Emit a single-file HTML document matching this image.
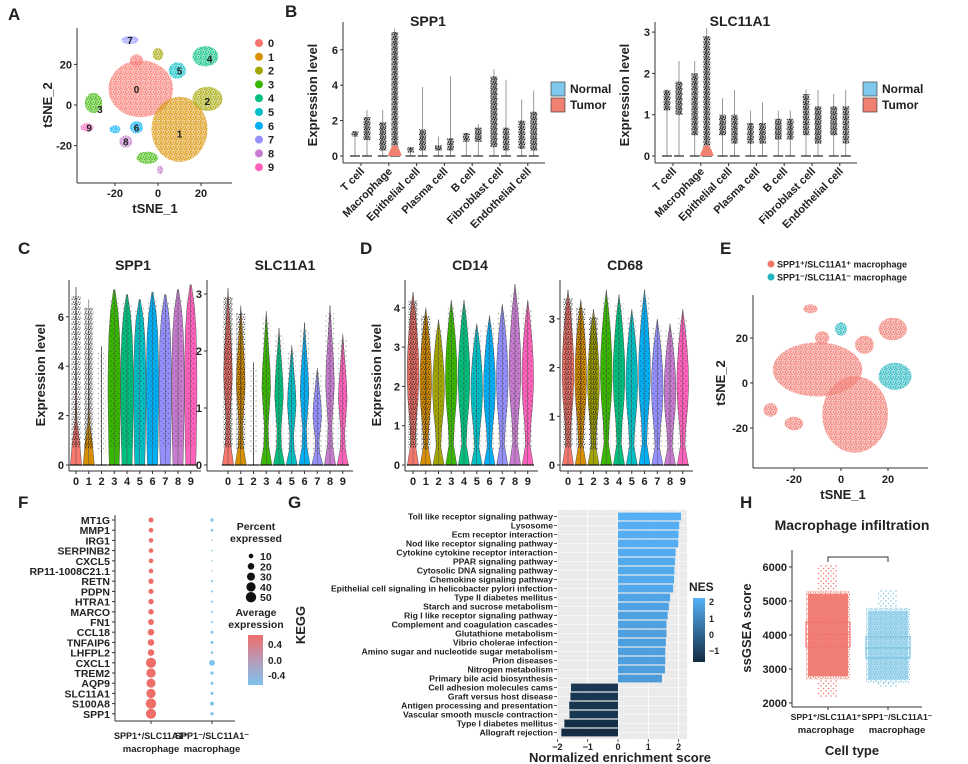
<!DOCTYPE html>
<html><head><meta charset="utf-8"><style>
body{margin:0;background:#fff}
svg{display:block;font-family:"Liberation Sans",Arial,sans-serif;font-weight:bold}
text{fill:#222}
</style></head><body>
<svg id="s" width="968" height="764" viewBox="0 0 968 764">
<defs id="defs"></defs>
<g id="g"></g>
</svg>
<script>
// ---------- data ----------
const clusterColors=["#F8766D","#D89000","#A3A500","#39B600","#00BF7D","#00BFC4","#00B0F6","#9590FF","#C77CD0","#FF62BC"];
const clusterIds=["0","1","2","3","4","5","6","7","8","9"];
// panel A blobs: cluster, x, y, rx, ry (tSNE units)
const aBlobCluster=[0,1,2,3,4,5,6,7,8,9,2,3,6,8,0];
const aBlobX=[-8,10,23,-30,22,9,-10,-13,-15,-33,0,-5,-20,1,-10];
const aBlobY=[8,-12,3,1,24,17,-11,32,-18,-11,25,-26,-12,-32,22];
const aBlobRX=[15,13,7,4,6,4,3,4,3,3,2.5,5,2.5,1.5,3];
const aBlobRY=[14,16,6,5,5,4,3,2,3,2,3,3,2,2,3];
const aLabelX=[-10,10,23,-27,24,10,-10,-13,-15,-32];
const aLabelY=[8,-14,2,-2,23,17,-11,32,-18,-11];
const tsneTicks=[-20,0,20];
// panel B
const cellTypes=["T cell","Macrophage","Epithelial cell","Plasma cell","B cell","Fibroblast cell","Endothelial cell"];
const sppNormMax=[1.4,2.6,0.5,1.1,1.3,4.9,3.2], sppTumMax=[2.6,7.2,3.9,4.5,1.8,4.3,3.7];
const sppNormLo=[1.1,0.3,0.2,0.3,0.8,0.5,0.4], sppNormHi=[1.4,1.9,0.5,0.6,1.3,4.5,2.0];
const sppTumLo=[0.9,0.3,0.3,0.3,0.8,0.3,0.3], sppTumHi=[2.2,7.0,1.5,1.0,1.6,1.6,2.5];
const slcNormMax=[1.6,2.3,1.4,1.1,1.1,1.6,1.5], slcTumMax=[2.3,3.1,1.6,1.3,1.1,1.6,1.6];
const slcNormLo=[1.1,0.5,0.5,0.3,0.4,0.5,0.5], slcNormHi=[1.6,2.0,1.0,0.8,0.9,1.5,1.2];
const slcTumLo=[1.0,0.2,0.3,0.3,0.4,0.3,0.3], slcTumHi=[1.8,2.9,1.0,0.8,0.9,1.2,1.2];
// panels C/D
const cSppMax=[7.2,6.7,4.8,7.1,6.9,6.7,7.0,6.9,7.1,7.3];
const cSlcMax=[3.1,2.8,1.8,2.7,2.4,2.1,2.5,1.7,2.8,2.3];
const dCd14Max=[4.4,4.0,3.7,4.2,4.2,3.6,3.8,4.1,4.6,4.2];
const dCd68Max=[3.6,3.4,3.2,3.6,3.5,3.2,3.6,3.0,2.9,3.2];
const profLow=[0.9,0.6,0.15,0.08,0.06,0.05,0.04,0.03,0];
const profWide=[0.8,0.9,0.95,1,1,0.95,0.85,0.6,0.1];
const profSlc=[0.9,0.4,0.3,0.5,0.7,0.6,0.4,0.2,0];
const profCd=[0.9,0.35,0.5,0.8,0.95,0.9,0.7,0.4,0];
const cSppType=[0,0,2,1,1,1,1,1,1,1];
const cSlcType=[1,1,2,1,1,1,1,1,1,1];
// panel E
const eBlobPos=[1,1,1,1,1,1,1,1,0,0];
const eBlobX=[-10,6,-30,22,-13,10,-8,-20,0,23];
const eBlobY=[6,-14,-12,24,33,17,20,-18,24,3];
const eBlobRX=[19,14,3,6,3,4,3,4,2.5,7];
const eBlobRY=[12,17,3,5,2,4,3,3,3,6];
// panel F
const fGenes=["MT1G","MMP1","IRG1","SERPINB2","CXCL5","RP11-1008C21.1","RETN","PDPN","HTRA1","MARCO","FN1","CCL18","TNFAIP6","LHFPL2","CXCL1","TREM2","AQP9","SLC11A1","S100A8","SPP1"];
const fPctPos=[12,10,10,10,10,10,13,12,14,14,16,20,20,20,48,40,38,40,50,48];
const fPctNeg=[5,3,1,1,1,1,2,2,2,2,2,4,4,3,16,5,4,4,7,5];
const fSizeTicks=[10,20,30,40,50];
// panel G
const gTerms=["Toll like receptor signaling pathway","Lysosome","Ecm receptor interaction","Nod like receptor signaling pathway","Cytokine cytokine receptor interaction","PPAR signaling pathway","Cytosolic DNA signaling pathway","Chemokine signaling pathway","Epithelial cell signaling in helicobacter pylori infection","Type II diabetes mellitus","Starch and sucrose metabolism","Rig I like receptor signaling pathway","Complement and coagulation cascades","Glutathione metabolism","Vibrio cholerae infection","Amino sugar and nucleotide sugar metabolism","Prion diseases","Nitrogen metabolism","Primary bile acid biosynthesis","Cell adhesion molecules cams","Graft versus host disease","Antigen processing and presentation","Vascular smooth muscle contraction","Type I diabetes mellitus","Allograft rejection"];
const gNES=[2.08,2.02,2.0,1.99,1.9,1.88,1.86,1.85,1.82,1.72,1.68,1.64,1.6,1.6,1.58,1.56,1.56,1.55,1.45,-1.55,-1.57,-1.61,-1.6,-1.77,-1.87];
const gTicks=[-2,-1,0,1,2];
// panel H
const hGroups=["pos","neg"];
const hQ1=[3650,3330], hMed=[4020,3620], hQ3=[4380,3950];
const hLo=[2700,2600], hHi=[5300,4800], hMin=[2150,2450], hMax=[6080,5320];
const hTicks=[2000,3000,4000,5000,6000];

// ---------- helpers ----------
const NS="http://www.w3.org/2000/svg";
const G=document.getElementById('g'), D=document.getElementById('defs');
function el(tag,attrs,parent,txt){const e=document.createElementNS(NS,tag);for(const k in attrs)e.setAttribute(k,attrs[k]);if(txt!==undefined)e.textContent=txt;(parent||G).appendChild(e);return e;}
const pats={};
function pat(color,dense){const key=color+dense;if(pats[key])return pats[key];const id='p'+Object.keys(pats).length;
 const p=el('pattern',{id:id,width:5,height:5,patternUnits:'userSpaceOnUse'},D);
 const pts=dense?[[1,1],[3.5,2],[2,4],[4.5,4.5],[0.5,3]]:[[1,1],[3.5,3.5]];
 pts.forEach(q=>el('circle',{cx:q[0],cy:q[1],r:0.8,fill:color},p));pats[key]='url(#'+id+')';return pats[key];}
function txt(x,y,s,size,opt){opt=opt||{};const t=el('text',Object.assign({x:x,y:y,'font-size':size,'text-anchor':opt.anchor||'start'},opt.attrs||{}),opt.parent,s);
 return t;}
function line(x1,y1,x2,y2,c,w,p){return el('line',{x1,y1,x2,y2,stroke:c||'#333','stroke-width':w||1},p);}
function blob(g,cx,cy,rx,ry,c,name){
 el('ellipse',{cx,cy,rx,ry,fill:c,opacity:0.4},g);
 const e=el('ellipse',{cx,cy,rx,ry,fill:pat(c,true)},g);
 }

[["A",8,20],["B",285,17],["C",18,254],["D",360,254],["E",720,254],["F",18,508],["G",288,508],["H",740,508]].forEach(l=>{
 const t=txt(l[1],l[2],l[0],17);});

// ---------- Panel A ----------
(function(){
 const g=el('g',{});
 const X=v=>158+v*2.15, Y=v=>105-v*2.03;
 aBlobCluster.forEach((c,i)=>blob(g,X(aBlobX[i]),Y(aBlobY[i]),aBlobRX[i]*2.15,aBlobRY[i]*2.03,clusterColors[c],'cluster-'+c+'-points'));
 clusterIds.forEach((c,i)=>txt(X(aLabelX[i]),Y(aLabelY[i])+4,c,10,{anchor:'middle',parent:g,name:'cluster-label-'+c}));
 line(77,28,77,183,'#333',1,g);line(77,183,232,183,'#333',1,g);
 tsneTicks.forEach(t=>{line(X(t),183,X(t),186,'#333',1,g);txt(X(t),197,String(t),11,{anchor:'middle',parent:g,name:'x-tick'});
  line(74,Y(t),77,Y(t),'#333',1,g);txt(72,Y(t)+4,String(t),11,{anchor:'end',parent:g,name:'y-tick'});});
 txt(155,213,'tSNE_1',13,{anchor:'middle',parent:g,name:'x-axis-title'});
 txt(52,105,'tSNE_2',13,{anchor:'middle',parent:g,name:'y-axis-title',attrs:{transform:'rotate(-90 52 105)'}});
 clusterIds.forEach((c,i)=>{const y=43+i*13.8;const cc=el('circle',{cx:259,cy:y,r:4,fill:clusterColors[i]},g);
  
  txt(268,y+4,c,11,{parent:g,name:'legend-entry-'+c});});
})();

// ---------- Panel B ----------
function panelB(ox,title,yscale,yticks,nMax,tMax,nLo,nHi,tLo,tHi,name){
 const g=el('g',{});
 const y0=156,Y=v=>y0-v*yscale;
 const axX=ox, top=22;
 txt(ox+85,26,title,14,{anchor:'middle',parent:g,name:'panel-title'});
 line(axX,top,axX,163,'#333',1,g);line(axX,163,ox+202,163,'#333',1,g);
 yticks.forEach(t=>{line(axX-3,Y(t),axX,Y(t),'#333',1,g);txt(axX-5,Y(t)+4,String(t),11,{anchor:'end',parent:g,name:'y-tick'});});
 txt(ox-26,95,'Expression level',13,{anchor:'middle',parent:g,name:'y-axis-title',attrs:{transform:'rotate(-90 '+(ox-26)+' 95)'}});
 cellTypes.forEach((ct,i)=>{const cx=ox+18+i*27.8;
  [[cx-6,nMax[i],nLo[i],nHi[i],'#7EC8EE'],[cx+6,tMax[i],tLo[i],tHi[i],'#F08070']].forEach((v,k)=>{
   line(v[0],y0,v[0],Y(v[1]),'#555',0.6,g);line(v[0]-5,y0,v[0]+5,y0,'#222',1.2,g);
   const hh=Math.max(1,Y(v[2])-Y(v[3]));
   el('rect',{x:v[0]-3,y:Y(v[3]),width:6,height:hh,fill:'#222',opacity:0.35},g);
   const r=el('rect',{x:v[0]-3.5,y:Y(v[3]),width:7,height:hh,fill:pat('#111',true)},g);
   
   if(k&&i===1){el('path',{d:`M${v[0]-7},${y0} Q${v[0]},${y0-22} ${v[0]+7},${y0} Z`,fill:'#F08070'},g);}
  });
  line(cx,163,cx,166,'#333',1,g);
  txt(cx+4,172,ct,11,{anchor:'end',parent:g,name:'x-tick',attrs:{transform:`rotate(-45 ${cx+4} 172)`}});
 });
 [['Normal','#7EC8EE',82],['Tumor','#F08070',98]].forEach(l=>{
  const r=el('rect',{x:ox+208,y:l[2],width:14,height:14,fill:l[1],stroke:'#444','stroke-width':0.7},g);
  
  txt(ox+227,l[2]+11,l[0],12,{parent:g,name:'legend-entry-'+l[0].toLowerCase()});});
}
panelB(343,'SPP1',17.7,[0,2,4,6],sppNormMax,sppTumMax,sppNormLo,sppNormHi,sppTumLo,sppTumHi,'panel-b-spp1');
panelB(655,'SLC11A1',41.3,[0,1,2,3],slcNormMax,slcTumMax,slcNormLo,slcNormHi,slcTumLo,slcTumHi,'panel-b-slc11a1');

// ---------- Panels C/D violins ----------
function violinPanel(axX,x0,title,yscale,yticks,maxes,types,name,profs,ylab,denseSet){
 const g=el('g',{});
 const y0=465,Y=v=>y0-v*yscale,step=12.75,hw=6.2;
 txt(x0+57,270,title,14,{anchor:'middle',parent:g,name:'panel-title'});
 line(axX,280,axX,471,'#333',1,g);line(axX,471,x0+125,471,'#333',1,g);
 yticks.forEach(t=>{line(axX-3,Y(t),axX,Y(t),'#333',1,g);txt(axX-5,Y(t)+4,String(t),11,{anchor:'end',parent:g,name:'y-tick'});});
 if(ylab)txt(axX-24,375,'Expression level',13,{anchor:'middle',parent:g,name:'y-axis-title',attrs:{transform:`rotate(-90 ${axX-24} 375)`}});
 maxes.forEach((m,i)=>{const cx=x0+i*step;const pr=profs[types[i]];const n=pr.length-1;
  let right=[],left=[];pr.forEach((w,k)=>{const y=Y(m*k/n);right.push([cx+w*hw,y]);left.push([cx-w*hw,y]);});
  let d=`M${cx},${y0} `;right.forEach(p=>d+=`L${p[0].toFixed(1)},${p[1].toFixed(1)} `);left.reverse().forEach(p=>d+=`L${p[0].toFixed(1)},${p[1].toFixed(1)} `);d+='Z';
  const v=el('path',{d:d,fill:clusterColors[i],stroke:'#555','stroke-width':0.5},g);
  
  line(cx,y0,cx,Y(m),'#555',0.5,g);line(cx-hw,y0,cx+hw,y0,'#111',1.2,g);
  const dense=denseSet.indexOf(i)>=0;
  el('rect',{x:cx-4.5,y:Y(m*0.95),width:9,height:Y(m*0.1)-Y(m*0.95),fill:pat('#111',dense),opacity:dense?0.75:0.35},g);
  line(cx,471,cx,474,'#333',1,g);txt(cx,485,String(i),11,{anchor:'middle',parent:g,name:'x-tick'});
 });
}
violinPanel(69,76,'SPP1',24.7,[0,2,4,6],cSppMax,cSppType,'panel-c-spp1',[profLow,profWide,[0.05,0.03,0.02,0.02,0.01,0.01,0.01,0.01,0]],true,[0,1]);
violinPanel(207,228,'SLC11A1',57,[0,1,2,3],cSlcMax,cSlcType,'panel-c-slc11a1',[profLow,profSlc,[0.05,0.03,0.02,0.02,0.01,0.01,0.01,0,0]],false,[0,1]);
violinPanel(405,413,'CD14',39.3,[0,1,2,3,4],dCd14Max,[0,0,0,0,0,0,0,0,0,0],'panel-d-cd14',[profCd],true,[0,1]);
violinPanel(560,568,'CD68',48.7,[0,1,2,3],dCd68Max,[0,0,0,0,0,0,0,0,0,0],'panel-d-cd68',[profCd],false,[0,1,2]);

// ---------- Panel E ----------
(function(){
 const g=el('g',{});
 const X=v=>841+v*2.35,Y=v=>383-v*2.25;
 eBlobPos.forEach((p,i)=>blob(g,X(eBlobX[i]),Y(eBlobY[i]),eBlobRX[i]*2.35,eBlobRY[i]*2.25,p?'#F0766C':'#1FB5BE',p?'pos-macrophage-points':'neg-macrophage-points'));
 line(753,295,753,468,'#333',1,g);line(753,468,928,468,'#333',1,g);
 tsneTicks.forEach(t=>{line(X(t),468,X(t),471,'#333',1,g);txt(X(t),483,String(t),11,{anchor:'middle',parent:g,name:'x-tick'});
  line(750,Y(t),753,Y(t),'#333',1,g);txt(748,Y(t)+4,String(t),11,{anchor:'end',parent:g,name:'y-tick'});});
 txt(843,499,'tSNE_1',13,{anchor:'middle',parent:g,name:'x-axis-title'});
 txt(725,383,'tSNE_2',13,{anchor:'middle',parent:g,name:'y-axis-title',attrs:{transform:'rotate(-90 725 383)'}});
 [['#F0766C',264,'SPP1⁺/SLC11A1⁺ macrophage'],['#1FB5BE',277,'SPP1⁻/SLC11A1⁻ macrophage']].forEach((l,i)=>{
  const c=el('circle',{cx:771,cy:l[1],r:3.5,fill:l[0]},g);
  txt(777,l[1]+3.5,l[2],9,{parent:g,name:'legend-entry'});});
})();

// ---------- Panel F ----------
(function(){
 const g=el('g',{});
 const Y=i=>520+i*10.2, r=p=>Math.sqrt(p/50)*5.2;
 line(115,515,115,721,'#333',1,g);line(115,721,235,721,'#333',1,g);
 fGenes.forEach((gn,i)=>{line(112,Y(i),115,Y(i),'#333',1,g);txt(110,Y(i)+4,gn,10.5,{anchor:'end',parent:g,name:'gene-label'});
  const a=el('circle',{cx:151,cy:Y(i),r:r(fPctPos[i]),fill:'#EE6E6A'},g);
  const b=el('circle',{cx:212,cy:Y(i),r:r(fPctNeg[i]),fill:'#7EC3EE'},g);});
 [[151,'SPP1⁺/SLC11A1⁺'],[212,'SPP1⁻/SLC11A1⁻']].forEach(c=>{line(c[0],721,c[0],724,'#333',1,g);
  txt(c[0],739,c[1],9,{anchor:'middle',parent:g,name:'x-tick'});txt(c[0],752,'macrophage',9.5,{anchor:'middle',parent:g,name:'x-tick'});});
 txt(256,530,'Percent',10.5,{anchor:'middle',parent:g,name:'size-legend-title'});txt(256,542,'expressed',10.5,{anchor:'middle',parent:g,name:'size-legend-title'});
 fSizeTicks.forEach((s,i)=>{const y=556+i*10.3;el('circle',{cx:251,cy:y,r:r(s),fill:'#111'},g);txt(260,y+4,String(s),10.5,{parent:g,name:'size-legend-entry'});});
 txt(256,616,'Average',10.5,{anchor:'middle',parent:g,name:'color-legend-title'});txt(256,628,'expression',10.5,{anchor:'middle',parent:g,name:'color-legend-title'});
 const lg=el('linearGradient',{id:'fgrad',x1:0,y1:0,x2:0,y2:1},D);el('stop',{offset:0,'stop-color':'#EE6E6A'},lg);el('stop',{offset:0.5,'stop-color':'#B89AB8'},lg);el('stop',{offset:1,'stop-color':'#7EC3EE'},lg);
 const cb=el('rect',{x:248,y:635,width:15,height:50,fill:'url(#fgrad)'},g);
 [['0.4',648],['0.0',664],['-0.4',679]].forEach(t=>txt(268,t[1],t[0],10,{parent:g,name:'color-legend-tick'}));
})();

// ---------- Panel G ----------
(function(){
 const g=el('g',{});
 const L=557,R=687,T=512,B=737,X=v=>618+v*30.3,n=gTerms.length,h=(B-T)/n;
 el('rect',{x:L,y:T-2,width:R-L,height:B-T+4,fill:'#EBEBEB'},g);
 gTicks.forEach(t=>line(X(t),T-2,X(t),B+2,'#fff',0.8,g));
 [-1.5,-0.5,0.5,1.5].forEach(t=>line(X(t),T-2,X(t),B+2,'#f5f5f5',0.4,g));
 const col=v=>{const f=Math.max(0,Math.min(1,(v+1.9)/4));const a=[0x13,0x2B,0x43],b=[0x56,0xB1,0xF7];return 'rgb('+a.map((c,k)=>Math.round(c+(b[k]-c)*f)).join(',')+')';};
 gTerms.forEach((t,i)=>{const y=T+i*h;line(L,y+h/2,R,y+h/2,'#fff',0.6,g);
  const v=gNES[i],x1=Math.min(X(0),X(v)),w=Math.abs(X(v)-X(0));
  const r=el('rect',{x:x1,y:y+0.6,width:w,height:h-1.2,fill:col(v)},g);
  line(L-3,y+h/2,L,y+h/2,'#333',0.8,g);txt(L-4,y+h/2+3,t,8.6,{anchor:'end',parent:g,name:'term-label'});});
 gTicks.forEach(t=>{line(X(t),B+2,X(t),B+5,'#333',0.8,g);txt(X(t),B+13,t<0?'−'+(-t):String(t),9,{anchor:'middle',parent:g,name:'x-tick'});});
 txt(620,762,'Normalized enrichment score',13,{anchor:'middle',parent:g,name:'x-axis-title'});
 txt(305,625,'KEGG',13,{anchor:'middle',parent:g,name:'y-axis-title',attrs:{transform:'rotate(-90 305 625)'}});
 txt(689,591,'NES',12,{parent:g,name:'legend-title'});
 const lg=el('linearGradient',{id:'ggrad',x1:0,y1:0,x2:0,y2:1},D);el('stop',{offset:0,'stop-color':'#56B1F7'},lg);el('stop',{offset:1,'stop-color':'#132B43'},lg);
 const cb=el('rect',{x:693,y:598,width:12,height:64,fill:'url(#ggrad)'},g);
 [['2',602],['1',619],['0',635],['−1',651]].forEach(t=>txt(709,t[1]+3,t[0],9,{parent:g,name:'legend-tick'}));
})();

// ---------- Panel H ----------
(function(){
 const g=el('g',{});
 const Y=v=>703-(v-2000)*0.034,cx=[828,888],colors=['#F0766C','#7CC4E4'];
 txt(852,530,'Macrophage infiltration',14,{anchor:'middle',parent:g,name:'chart-title'});
 line(792,550,792,707,'#333',1,g);line(792,707,922,707,'#333',1,g);
 hTicks.forEach(t=>{line(789,Y(t),792,Y(t),'#333',1,g);txt(787,Y(t)+4,String(t),11,{anchor:'end',parent:g,name:'y-tick'});});
 hGroups.forEach((gr,i)=>{const c=colors[i];
  const sc=el('rect',{x:cx[i]-22,y:Y(hHi[i]),width:44,height:Y(hLo[i])-Y(hHi[i]),fill:pat(c,true)},g);
  el('rect',{x:cx[i]-20,y:Y(hHi[i])+3,width:40,height:Y(hLo[i])-Y(hHi[i])-6,fill:c,opacity:i?0.6:0.9},g);
  el('rect',{x:cx[i]-10,y:Y(hMax[i]),width:20,height:Y(hHi[i])-Y(hMax[i]),fill:pat(c,false)},g);
  el('rect',{x:cx[i]-10,y:Y(hLo[i]),width:20,height:Y(hMin[i])-Y(hLo[i]),fill:pat(c,false)},g);
  const b=el('rect',{x:cx[i]-22,y:Y(hQ3[i]),width:44,height:Y(hQ1[i])-Y(hQ3[i]),fill:'none',stroke:c,'stroke-width':1.2},g);
  
  line(cx[i]-22,Y(hMed[i]),cx[i]+22,Y(hMed[i]),c,1.2,g);
  line(cx[i],707,cx[i],710,'#333',1,g);
 });
 el('path',{d:'M828,562 L828,557 L888,557 L888,562',fill:'none',stroke:'#333','stroke-width':1},g);
 txt(826,720,'SPP1⁺/SLC11A1⁺',8.6,{anchor:'middle',parent:g,name:'x-tick'});txt(826,733,'macrophage',9.5,{anchor:'middle',parent:g,name:'x-tick'});
 txt(897,720,'SPP1⁻/SLC11A1⁻',8.6,{anchor:'middle',parent:g,name:'x-tick'});txt(897,733,'macrophage',9.5,{anchor:'middle',parent:g,name:'x-tick'});
 txt(852,755,'Cell type',13,{anchor:'middle',parent:g,name:'x-axis-title'});
 txt(751,628,'ssGSEA score',13,{anchor:'middle',parent:g,name:'y-axis-title',attrs:{transform:'rotate(-90 751 628)'}});
})();
</script>
</body></html>
